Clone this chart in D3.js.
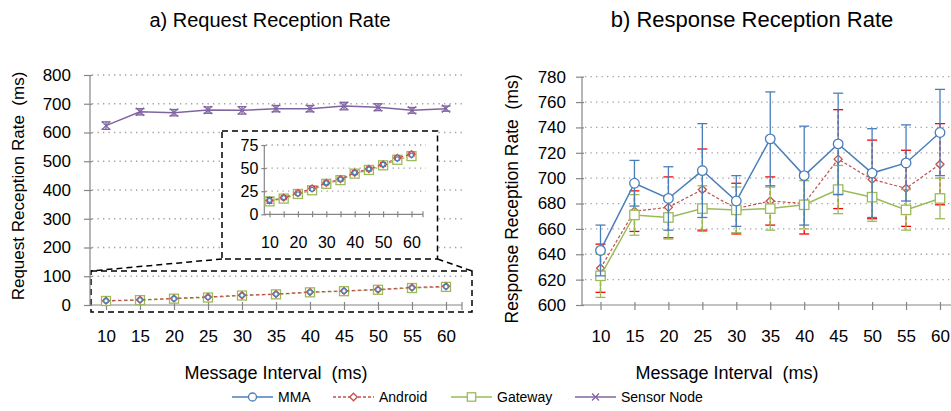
<!DOCTYPE html>
<html><head><meta charset="utf-8">
<script src="https://cdn.jsdelivr.net/npm/d3@7"></script>
<style>
body{margin:0;background:#fff}
svg{display:block}
text{font-family:"Liberation Sans",Arial,sans-serif;fill:#000}
</style>
</head><body>
<svg id="c" width="951" height="411"></svg>
<script>
// ---------- data ----------
const categories = [10, 15, 20, 25, 30, 35, 40, 45, 50, 55, 60];
const insetLabels = [10, 20, 30, 40, 50, 60];
const reqTicks = [0, 100, 200, 300, 400, 500, 600, 700, 800];
const insetTicks = [0, 25, 50, 75];
const respTicks = [600, 620, 640, 660, 680, 700, 720, 740, 760, 780];
const seriesNames = ["MMA", "Android", "Gateway", "Sensor Node"];

// a) Request reception rate
const reqMMA      = [15, 18, 22, 27, 34, 38, 45, 49, 54, 60, 64];
const reqAndroid  = [15, 18, 23, 28, 34, 38, 45, 49, 54, 61, 65];
const reqGateway  = [14, 17, 22, 26, 33, 37, 44, 48, 53, 59, 63];
const reqSmallErr = [3, 2, 2, 2, 2, 2, 2, 2, 2, 2, 2];
const reqSensor    = [624, 672, 669, 678, 677, 683, 683, 692, 688, 677, 683];
const reqSensorErr = [13, 11, 11, 11, 13, 11, 11, 13, 12, 10, 9];

// b) Response reception rate
const respMMA        = [643, 696, 684, 706, 682, 731, 702, 727, 704, 712, 736];
const respMMAErr     = [20, 18, 25, 37, 20, 37, 39, 40, 35, 30, 34];
const respAndroid    = [629, 674, 677, 691, 676, 682, 680, 715, 699, 692, 711];
const respAndroidErr = [19, 16, 24, 32, 20, 19, 24, 39, 31, 30, 32];
const respGateway    = [623, 671, 669, 676, 675, 676, 679, 691, 685, 675, 684];
const respGatewayErr = [17, 16, 17, 18, 18, 17, 19, 19, 19, 16, 16];

// ---------- styles ----------
const C = {mma:"#4a7ebb", android:"#c0504d", androidErr:"#ff0000", gateway:"#9bbb59", sensor:"#8064a2", axis:"#868686", grid:"#a0a0a0"};

const svg = d3.select("#c");

function marker(g, type, cx, cy, s, color) {
  if (type === "circle") {
    g.append("circle").attr("cx", cx).attr("cy", cy).attr("r", s).attr("fill", "#fff").attr("stroke", color).attr("stroke-width", 1.3);
  } else if (type === "square") {
    g.append("rect").attr("x", cx - s).attr("y", cy - s).attr("width", 2*s).attr("height", 2*s).attr("fill", "#fff").attr("stroke", color).attr("stroke-width", 1.3);
  } else if (type === "diamond") {
    g.append("path").attr("d", `M${cx},${cy-s}L${cx+s},${cy}L${cx},${cy+s}L${cx-s},${cy}Z`).attr("fill", "#fff").attr("stroke", color).attr("stroke-width", 1.3);
  } else if (type === "times") {
    g.append("path").attr("d", `M${cx-s},${cy-s}L${cx+s},${cy+s}M${cx-s},${cy+s}L${cx+s},${cy-s}`).attr("fill", "none").attr("stroke", color).attr("stroke-width", 1.3);
  }
}

function drawSeries(g, x, y, values, errs, o) {
  const pts = categories.map((c, i) => ({c, v: values[i], e: errs ? errs[i] : 0}));
  if (errs) {
    const eg = g.append("g").attr("stroke", o.errColor || o.color).attr("stroke-width", o.errWidth || 1.3).attr("fill", "none");
    pts.forEach(p => {
      const px = x(p.c), y0 = y(p.v - p.e), y1 = y(p.v + p.e);
      eg.append("line").attr("x1", px).attr("x2", px).attr("y1", y0).attr("y2", y1).attr("stroke-dasharray", o.errDash || null);
      eg.append("line").attr("x1", px - o.cap).attr("x2", px + o.cap).attr("y1", y0).attr("y2", y0);
      eg.append("line").attr("x1", px - o.cap).attr("x2", px + o.cap).attr("y1", y1).attr("y2", y1);
    });
  }
  const line = d3.line().x(d => x(d.c)).y(d => y(d.v));
  g.append("path").datum(pts).attr("d", line).attr("fill", "none").attr("stroke", o.color)
    .attr("stroke-width", o.width === undefined ? 1.5 : o.width).attr("stroke-dasharray", o.dash || null);
  const mg = g.append("g");
  pts.forEach(p => marker(mg, o.marker, x(p.c), y(p.v), o.size, o.color));
}

function gridLines(g, y, ticks, x0, x1) {
  g.append("g").selectAll("line").data(ticks.filter((t, i) => i > 0)).join("line")
    .attr("x1", x0).attr("x2", x1).attr("y1", d => y(d)).attr("y2", d => y(d))
    .attr("stroke", C.grid).attr("stroke-width", 1.3).attr("stroke-dasharray", "1.3,4.2");
}

function styleAxis(ax, fontSize, up, down, horizontal) {
  ax.select(".domain").remove();
  ax.selectAll("text").attr("font-family", '"Liberation Sans",Arial,sans-serif').attr("font-size", fontSize).attr("fill", "#000");
  ax.selectAll(".tick line").attr("stroke", C.axis).attr("stroke-width", 1.2);
  if (horizontal) ax.selectAll(".tick line").attr("y1", -up).attr("y2", down);
  else ax.selectAll(".tick line").attr("x1", -down).attr("x2", up);
}

// ================= a) Request =================
const lx = d3.scalePoint().domain(categories).range([106, 446]);
const ly = d3.scaleLinear().domain([0, 800]).range([305, 75]);
const left = svg.append("g");

gridLines(left, ly, reqTicks, 92, 462);

const dashStyle = s => s.attr("fill", "none").attr("stroke", "#000").attr("stroke-width", 1.5).attr("stroke-dasharray", "6,4");
left.append("rect").attr("x", 91).attr("y", 271).attr("width", 381).attr("height", 41).call(dashStyle);
left.append("line").attr("x1", 222).attr("y1", 259).attr("x2", 91).attr("y2", 271).call(dashStyle);
left.append("line").attr("x1", 437.5).attr("y1", 259).attr("x2", 472).attr("y2", 271).call(dashStyle);

const lyAx = left.append("g").attr("transform", "translate(90,0)")
  .call(d3.axisLeft(ly).tickValues(reqTicks).tickSize(0).tickPadding(19));
styleAxis(lyAx, 17, 2, 6, false);
left.append("line").attr("x1", 90).attr("x2", 90).attr("y1", 75).attr("y2", 305).attr("stroke", C.axis).attr("stroke-width", 1.2);
const lxAx = left.append("g").attr("transform", "translate(0,305)")
  .call(d3.axisBottom(lx).tickValues(categories).tickSize(0).tickPadding(25));
styleAxis(lxAx, 17, 3, 5, true);
left.append("line").attr("x1", 90).attr("x2", 462).attr("y1", 305).attr("y2", 305).attr("stroke", C.axis).attr("stroke-width", 1.2);
left.append("line").attr("x1", 462).attr("x2", 462).attr("y1", 302).attr("y2", 310).attr("stroke", C.axis).attr("stroke-width", 1.2);

drawSeries(left, lx, ly, reqGateway, reqSmallErr, {color: C.gateway, dash: "4,2", width: 1.3, marker: "square", size: 4.5, cap: 3});
drawSeries(left, lx, ly, reqAndroid, reqSmallErr, {color: C.android, errColor: C.androidErr, dash: "3,3", width: 1.2, marker: "diamond", size: 3.5, cap: 3});
drawSeries(left, lx, ly, reqMMA, null, {color: C.mma, width: 0, marker: "circle", size: 2.2});
drawSeries(left, lx, ly, reqSensor, reqSensorErr, {color: C.sensor, marker: "times", size: 4, cap: 4.5});

// ---- inset ----
left.append("rect").attr("x", 222).attr("y", 131).attr("width", 215.5).attr("height", 128).call(dashStyle).attr("fill", "#fff");
const ix = d3.scalePoint().domain(categories).range([269.5, 411.5]);
const iy = d3.scaleLinear().domain([0, 75]).range([214.3, 145]);
const inset = left.append("g");
gridLines(inset, iy, insetTicks, 266, 426);
const iyAx = inset.append("g").attr("transform", "translate(264.3,0)")
  .call(d3.axisLeft(iy).tickValues(insetTicks).tickSize(0).tickPadding(6));
styleAxis(iyAx, 16, 2, 3, false);
inset.append("line").attr("x1", 264.3).attr("x2", 264.3).attr("y1", 145).attr("y2", 214.3).attr("stroke", C.axis).attr("stroke-width", 1.2);
const ixAx = inset.append("g").attr("transform", "translate(0,214.3)")
  .call(d3.axisBottom(ix).tickValues(categories).tickFormat(d => insetLabels.includes(d) ? d : "").tickSize(0).tickPadding(22));
styleAxis(ixAx, 16, 3, 3, true);
inset.append("line").attr("x1", 264.3).attr("x2", 423).attr("y1", 214.3).attr("y2", 214.3).attr("stroke", C.axis).attr("stroke-width", 1.2);
inset.append("line").attr("x1", 423).attr("x2", 423).attr("y1", 211.3).attr("y2", 217.3).attr("stroke", C.axis).attr("stroke-width", 1.2);
drawSeries(inset, ix, iy, reqGateway, reqSmallErr, {color: C.gateway, dash: "4,2", width: 1.3, marker: "square", size: 4.5, cap: 3});
drawSeries(inset, ix, iy, reqAndroid, reqSmallErr, {color: C.android, errColor: C.androidErr, dash: "3,3", width: 1.2, marker: "diamond", size: 3.5, cap: 3});
drawSeries(inset, ix, iy, reqMMA, null, {color: C.mma, width: 0, marker: "circle", size: 2});

left.append("text").attr("x", 270).attr("y", 27).attr("text-anchor", "middle").attr("font-size", 20).text("a) Request Reception Rate");
left.append("text").attr("x", 276).attr("y", 379).attr("text-anchor", "middle").attr("font-size", 18).style("white-space", "pre").text("Message Interval  (ms)");
left.append("text").attr("transform", "translate(24,186) rotate(-90)").attr("text-anchor", "middle").attr("font-size", 17).style("white-space", "pre").text("Request Reception Rate  (ms)");

// ================= b) Response =================
const rx = d3.scalePoint().domain(categories).range([600.5, 940]);
const ry = d3.scaleLinear().domain([600, 780]).range([305, 76.7]);
const right = svg.append("g");
gridLines(right, ry, respTicks, 585, 951);
const ryAx = right.append("g").attr("transform", "translate(582,0)")
  .call(d3.axisLeft(ry).tickValues(respTicks).tickSize(0).tickPadding(16));
styleAxis(ryAx, 17, 2, 6, false);
right.append("line").attr("x1", 582).attr("x2", 582).attr("y1", 76.7).attr("y2", 305).attr("stroke", C.axis).attr("stroke-width", 1.2);
const rxAx = right.append("g").attr("transform", "translate(0,305)")
  .call(d3.axisBottom(rx).tickValues(categories).tickSize(0).tickPadding(25));
styleAxis(rxAx, 17, 3, 5, true);
right.append("line").attr("x1", 582).attr("x2", 951).attr("y1", 305).attr("y2", 305).attr("stroke", C.axis).attr("stroke-width", 1.2);

drawSeries(right, rx, ry, respAndroid, respAndroidErr, {color: C.android, errColor: C.androidErr, errDash: "4,2", dash: "3,2", width: 1.2, marker: "diamond", size: 4, cap: 5});
drawSeries(right, rx, ry, respGateway, respGatewayErr, {color: C.gateway, marker: "square", size: 4.7, cap: 5});
drawSeries(right, rx, ry, respMMA, respMMAErr, {color: C.mma, marker: "circle", size: 4.8, cap: 5});

right.append("text").attr("x", 752).attr("y", 27).attr("text-anchor", "middle").attr("font-size", 22).text("b) Response Reception Rate");
right.append("text").attr("x", 727).attr("y", 379).attr("text-anchor", "middle").attr("font-size", 18).style("white-space", "pre").text("Message Interval  (ms)");
right.append("text").attr("transform", "translate(518,199) rotate(-90)").attr("text-anchor", "middle").attr("font-size", 17.5).style("white-space", "pre").text("Response Reception Rate  (ms)");

// ================= legend =================
const legendItems = [
  {name: seriesNames[0], color: C.mma, marker: "circle", size: 4, dash: null, x: 232},
  {name: seriesNames[1], color: C.android, marker: "diamond", size: 3.8, dash: "3,2", x: 333},
  {name: seriesNames[2], color: C.gateway, marker: "square", size: 4.2, dash: null, x: 451},
  {name: seriesNames[3], color: C.sensor, marker: "times", size: 3.5, dash: null, x: 575}
];
const lg = svg.append("g");
legendItems.forEach(it => {
  lg.append("line").attr("x1", it.x).attr("x2", it.x + 41).attr("y1", 397).attr("y2", 397).attr("stroke", it.color).attr("stroke-width", 1.5).attr("stroke-dasharray", it.dash);
  marker(lg, it.marker, it.x + 20.5, 397, it.size, it.color);
  lg.append("text").attr("x", it.x + 46).attr("y", 402).attr("font-size", 14).text(it.name);
});
</script>
</body></html>
